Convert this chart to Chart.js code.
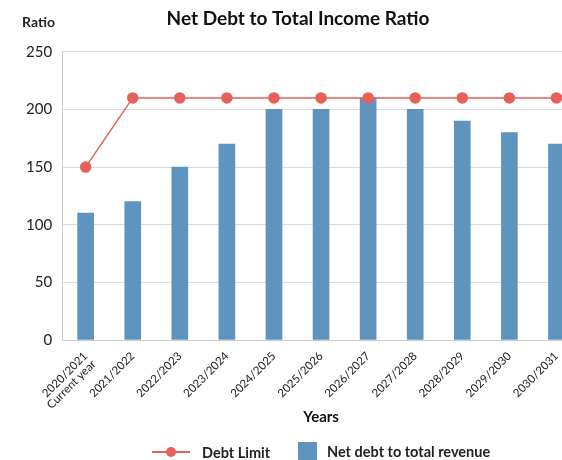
<!DOCTYPE html>
<html lang="en">
<head>
    <meta charset="UTF-8">
    <title>Net Debt to Total Income Ratio</title>
    <script src="https://cdn.jsdelivr.net/npm/chart.js"></script>
    <style>
        html, body { margin: 0; padding: 0; background: #fff; overflow: hidden; }
        .chart-box { width: 594px; height: 460px; }
    </style>
</head>
<body>

    <div class="chart-box">
        <canvas id="ratioChart"></canvas>
    </div>

<script>
    const years = [
        ['2020/2021', 'Current year'], '2021/2022', '2022/2023', '2023/2024', '2024/2025',
        '2025/2026', '2026/2027', '2027/2028', '2028/2029', '2029/2030', '2030/2031'
    ];
    const debtLimit = [150, 210, 210, 210, 210, 210, 210, 210, 210, 210, 210];
    const netDebtRatio = [110, 120, 150, 170, 200, 200, 210, 200, 190, 180, 170];
    const yTicks = [0, 50, 100, 150, 200, 250];

    const RED = '#e8605a';
    const BLUE = '#5f94bf';
    const FONT = 'Lato, "Open Sans", sans-serif';

    // y title sits above the axis, plus a hand-drawn legend along the bottom
    const extras = {
        id: 'extras',
        afterDraw(chart) {
            const c = chart.ctx;
            c.save();
            c.fillStyle = '#222';
            c.font = 'bold 14px ' + FONT;
            c.textBaseline = 'middle';
            c.textAlign = 'left';
            c.fillText('Ratio', 22, 22);

            const y = 452;
            c.font = 'bold 14.5px ' + FONT;
            c.strokeStyle = RED;
            c.lineWidth = 2;
            c.beginPath();
            c.moveTo(152, y);
            c.lineTo(190, y);
            c.stroke();
            c.fillStyle = RED;
            c.beginPath();
            c.arc(171, y, 5, 0, Math.PI * 2);
            c.fill();
            c.fillStyle = '#222';
            c.fillText('Debt Limit', 202, y + 1);

            c.fillStyle = BLUE;
            c.fillRect(298, y - 10, 19, 19);
            c.fillStyle = '#222';
            c.fillText('Net debt to total revenue', 327, y);
            c.restore();
        }
    };

    window.onload = function() {
        const ctx = document.getElementById('ratioChart').getContext('2d');
        new Chart(ctx, {
            data: {
                labels: years,
                datasets: [{
                    type: 'line',
                    label: 'Debt Limit',
                    data: debtLimit,
                    borderColor: RED,
                    backgroundColor: RED,
                    borderWidth: 1.5,
                    pointRadius: 5,
                    pointHoverRadius: 5,
                    tension: 0,
                    order: 0
                }, {
                    type: 'bar',
                    label: 'Net debt to total revenue',
                    data: netDebtRatio,
                    backgroundColor: BLUE,
                    barThickness: 16,
                    order: 1
                }]
            },
            options: {
                responsive: true,
                maintainAspectRatio: false,
                animation: false,
                layout: { padding: { left: 16, right: 14, top: 4, bottom: 34 } },
                plugins: {
                    legend: { display: false },
                    tooltip: { enabled: false },
                    title: {
                        display: true,
                        text: 'Net Debt to Total Income Ratio',
                        color: '#111',
                        font: { family: FONT, size: 19, weight: 'bold' },
                        padding: { top: 3, bottom: 22 }
                    }
                },
                scales: {
                    x: {
                        grid: { display: false },
                        border: { color: '#ccc' },
                        afterFit(scale) {
                            scale.height = 86;
                        },
                        ticks: {
                            color: '#222',
                            padding: 2,
                            font: { family: FONT, size: 11.5, lineHeight: 1.0 },
                            maxRotation: 45,
                            minRotation: 45,
                            autoSkip: false
                        },
                        title: {
                            display: true,
                            text: 'Years',
                            color: '#111',
                            font: { family: FONT, size: 15, weight: 'bold' },
                            padding: { top: 4, bottom: 0 }
                        }
                    },
                    y: {
                        min: 0,
                        max: 250,
                        afterBuildTicks(scale) {
                            scale.ticks = yTicks.map(v => ({ value: v }));
                        },
                        grid: { color: '#dcdcdc', drawTicks: false },
                        border: { color: '#ccc' },
                        ticks: {
                            color: '#222',
                            padding: 10,
                            font: { family: FONT, size: 15 }
                        }
                    }
                }
            },
            plugins: [extras]
        });
    };
</script>

</body>
</html>
